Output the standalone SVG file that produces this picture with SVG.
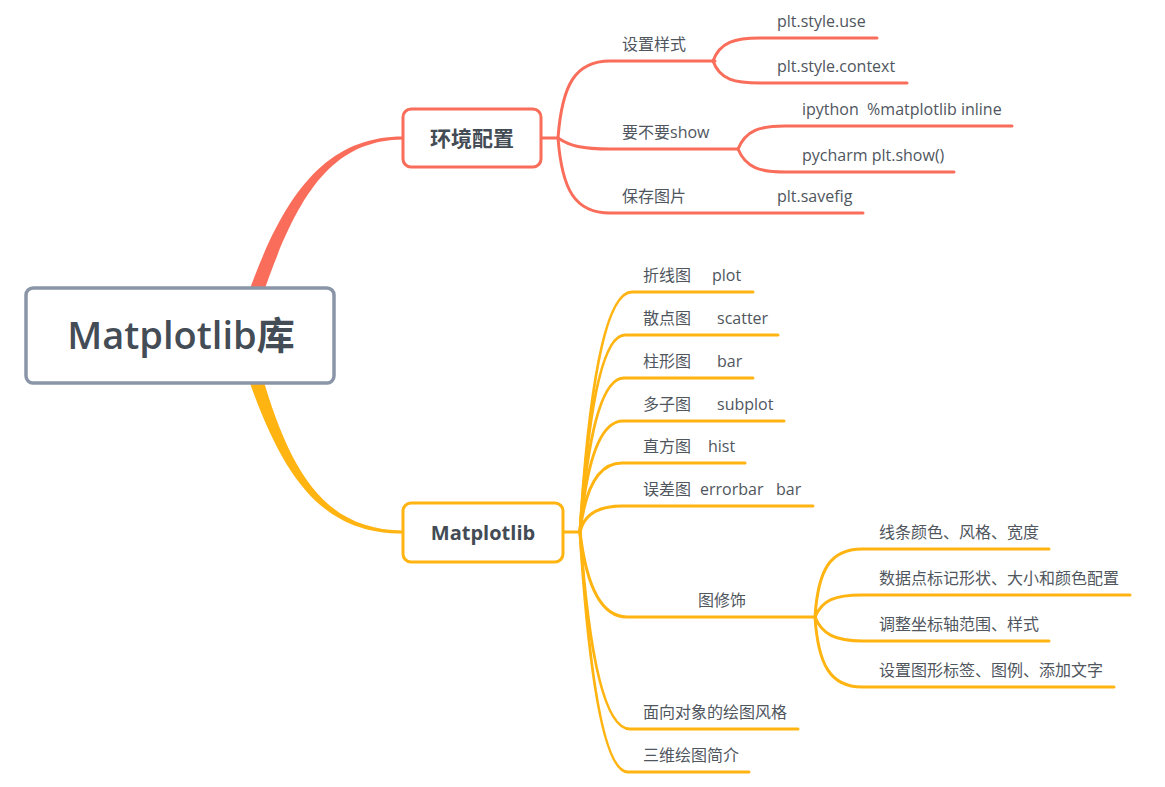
<svg xmlns="http://www.w3.org/2000/svg" width="1165" height="787" viewBox="0 0 1165 787">
  <style>
    .red { fill: none; stroke: #F96D5A; stroke-width: 3; stroke-linecap: round; }
    .yel { fill: none; stroke: #FFB412; stroke-width: 3; stroke-linecap: round; }
    .lbl { font-family: 'Open Sans', 'Noto Sans CJK SC', sans-serif; font-size: 16px; fill: #50565E; white-space: pre; }
    .node-text { font-family: 'Open Sans', 'Noto Sans CJK SC', sans-serif; font-weight: bold; fill: #434B55; text-anchor: middle; }
    .root-text { font-family: 'Open Sans', 'Noto Sans CJK SC', sans-serif; font-weight: 600; font-size: 38px; fill: #444C56; text-anchor: middle; }
  </style>
  <rect width="1165" height="787" fill="#FFFFFF"/>

  <g id="connectors">
    <!-- main branches (tapered) -->
    <path d="M246,300 C284,190 328,136.4 403,136.4 L403,139.6 C332,140.5 297,193 261,300 Z" fill="#F96D5A"/>
    <path d="M246,372 C282,476 320,533.6 403,533.6 L403,530.4 C324,530 290,472 261,372 Z" fill="#FFB412"/>

    <!-- 环境配置 children -->
    <path class="red" d="M541,138 L558,138"/>
    <path class="red" d="M558,138 C562,85 575,61 610,61 L715,61"/>
    <path class="red" d="M558,138 C570,146 582,149 610,149 L738,149"/>
    <path class="red" d="M558,138 C562,190 575,213 610,213 L863,213"/>
    <path class="red" d="M713,61 C720,42 735,38 760,38 L877,38"/>
    <path class="red" d="M713,61 C720,80 735,83 760,83 L907,83"/>
    <path class="red" d="M738,149 C746,130 760,126 785,126 L1012,126"/>
    <path class="red" d="M738,149 C746,168 760,172 785,172 L954,172"/>

    <!-- Matplotlib children -->
    <path class="yel" d="M563,532 L580,532"/>
    <path class="yel" d="M580,532 Q595,292 632,292 L753,292"/>
    <path class="yel" d="M580,532 Q593,335 625,335 L778,335"/>
    <path class="yel" d="M580,532 Q592,378 624,378 L753,378"/>
    <path class="yel" d="M580,532 Q590,421 623,421 L784,421"/>
    <path class="yel" d="M580,532 Q588,463 622,463 L745,463"/>
    <path class="yel" d="M580,532 Q586,506 622,506 L813,506"/>
    <path class="yel" d="M580,532 Q590,617 627,617 L815,617"/>
    <path class="yel" d="M580,532 Q594,729 630,729 L798,729"/>
    <path class="yel" d="M580,532 Q595,772 628,772 L749,772"/>

    <!-- 图修饰 children -->
    <path class="yel" d="M815,617 C818,570 830,549 862,549 L1049,549"/>
    <path class="yel" d="M815,617 C822,600 835,595 862,595 L1130,595"/>
    <path class="yel" d="M815,617 C822,634 835,641 862,641 L1049,641"/>
    <path class="yel" d="M815,617 C818,664 830,687 862,687 L1114,687"/>
  </g>

  <g id="root">
    <rect x="26" y="288" width="308" height="95" rx="7" fill="#FFFFFF" stroke="#8A96A8" stroke-width="3.5"/>
    <text class="root-text" x="181" y="349">Matplotlib库</text>
  </g>

  <g id="env-config">
    <rect x="403" y="109" width="138" height="58" rx="8" fill="#FFFFFF" stroke="#F96D5A" stroke-width="3"/>
    <text class="node-text" x="472" y="146" font-size="21">环境配置</text>
  </g>

  <g id="matplotlib">
    <rect x="403" y="503" width="160" height="59" rx="8" fill="#FFFFFF" stroke="#FFB412" stroke-width="3"/>
    <text class="node-text" x="483" y="540" font-size="20">Matplotlib</text>
  </g>

  <g id="env-topics">
    <text class="lbl" x="622" y="50">设置样式</text>
    <text class="lbl" x="622" y="138">要不要show</text>
    <text class="lbl" x="622" y="202">保存图片</text>
    <text class="lbl" x="777" y="27">plt.style.use</text>
    <text class="lbl" x="777" y="72">plt.style.context</text>
    <text class="lbl" x="802" y="115">ipython  %matplotlib inline</text>
    <text class="lbl" x="802" y="161">pycharm plt.show()</text>
    <text class="lbl" x="777" y="202">plt.savefig</text>
  </g>

  <g id="mpl-topics">
    <text class="lbl" x="643" y="281">折线图<tspan x="712">plot</tspan></text>
    <text class="lbl" x="643" y="324">散点图<tspan x="717">scatter</tspan></text>
    <text class="lbl" x="643" y="367">柱形图<tspan x="717">bar</tspan></text>
    <text class="lbl" x="643" y="410">多子图<tspan x="717">subplot</tspan></text>
    <text class="lbl" x="643" y="452">直方图<tspan x="708">hist</tspan></text>
    <text class="lbl" x="643" y="495">误差图<tspan x="700">errorbar</tspan><tspan x="776">bar</tspan></text>
    <text class="lbl" x="698" y="606">图修饰</text>
    <text class="lbl" x="643" y="718">面向对象的绘图风格</text>
    <text class="lbl" x="643" y="761">三维绘图简介</text>
  </g>

  <g id="decoration-topics">
    <text class="lbl" x="879" y="538">线条颜色、风格、宽度</text>
    <text class="lbl" x="879" y="584">数据点标记形状、大小和颜色配置</text>
    <text class="lbl" x="879" y="630">调整坐标轴范围、样式</text>
    <text class="lbl" x="879" y="676">设置图形标签、图例、添加文字</text>
  </g>
</svg>
